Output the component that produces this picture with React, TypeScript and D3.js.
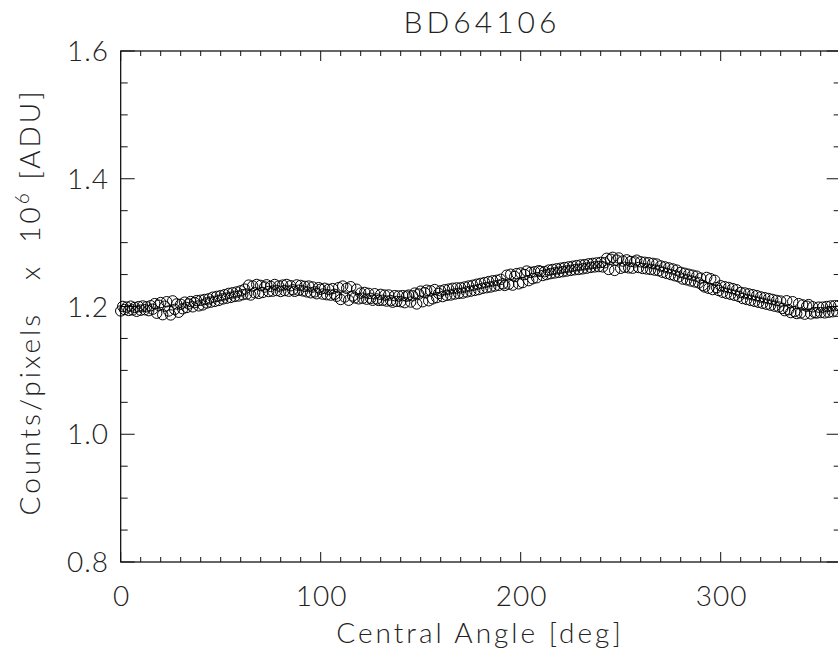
import React from 'react';
import { scaleLinear, range } from 'd3';

const title = 'BD64106';
const xLabel = 'Central Angle [deg]';

// x tick labels and y tick labels
const xMajor = [0, 100, 200, 300];
const yMajor = [0.8, 1.0, 1.2, 1.4, 1.6];

// one measurement per degree, 0..359, in units of 10^6 ADU
const counts0to89 = [
  1.1930, 1.2001, 1.1952, 1.1990, 1.1938, 1.2005, 1.1947, 1.1985, 1.1925, 1.1998,
  1.1942, 1.2008, 1.1950, 1.1995, 1.1935, 1.2012, 1.1958, 1.2045, 1.1895, 1.2020,
  1.2062, 1.1872, 1.2005, 1.2075, 1.1930, 1.1868, 1.2088, 1.1955, 1.2040, 1.1910,
  1.2035, 1.1965, 1.2068, 1.1985, 1.2040, 1.2078, 1.1995, 1.2060, 1.2092, 1.2010,
  1.2098, 1.2025, 1.2110, 1.2055, 1.2120, 1.2068, 1.2145, 1.2080, 1.2158, 1.2095,
  1.2170, 1.2118, 1.2185, 1.2130, 1.2205, 1.2142, 1.2215, 1.2158, 1.2228, 1.2165,
  1.2245, 1.2185, 1.2272, 1.2195, 1.2335, 1.2180, 1.2320, 1.2215, 1.2345, 1.2205,
  1.2330, 1.2220, 1.2305, 1.2340, 1.2235, 1.2315, 1.2240, 1.2345, 1.2250, 1.2320,
  1.2235, 1.2335, 1.2250, 1.2345, 1.2240, 1.2325, 1.2262, 1.2238, 1.2338, 1.2255,
];
const counts90to179 = [
  1.2330, 1.2245, 1.2315, 1.2230, 1.2320, 1.2215, 1.2305, 1.2228, 1.2200, 1.2295,
  1.2270, 1.2195, 1.2285, 1.2185, 1.2268, 1.2178, 1.2280, 1.2190, 1.2160, 1.2295,
  1.2110, 1.2320, 1.2150, 1.2285, 1.2098, 1.2310, 1.2165, 1.2135, 1.2270, 1.2120,
  1.2210, 1.2130, 1.2220, 1.2115, 1.2205, 1.2128, 1.2098, 1.2200, 1.2118, 1.2095,
  1.2190, 1.2098, 1.2178, 1.2085, 1.2180, 1.2092, 1.2068, 1.2170, 1.2080, 1.2165,
  1.2075, 1.2170, 1.2060, 1.2162, 1.2178, 1.2070, 1.2168, 1.2210, 1.2040, 1.2195,
  1.2240, 1.2075, 1.2215, 1.2255, 1.2090, 1.2245, 1.2120, 1.2265, 1.2140, 1.2205,
  1.2245, 1.2155, 1.2262, 1.2175, 1.2272, 1.2180, 1.2285, 1.2195, 1.2290, 1.2205,
  1.2292, 1.2210, 1.2305, 1.2228, 1.2320, 1.2240, 1.2332, 1.2252, 1.2348, 1.2265,
];
const counts180to269 = [
  1.2362, 1.2285, 1.2375, 1.2295, 1.2390, 1.2305, 1.2402, 1.2320, 1.2410, 1.2332,
  1.2425, 1.2355, 1.2330, 1.2490, 1.2350, 1.2505, 1.2335, 1.2470, 1.2515, 1.2355,
  1.2525, 1.2375, 1.2500, 1.2555, 1.2405, 1.2535, 1.2435, 1.2545, 1.2450, 1.2560,
  1.2550, 1.2485, 1.2545, 1.2500, 1.2570, 1.2515, 1.2580, 1.2525, 1.2590, 1.2535,
  1.2600, 1.2545, 1.2610, 1.2555, 1.2620, 1.2565, 1.2630, 1.2575, 1.2640, 1.2580,
  1.2650, 1.2590, 1.2655, 1.2600, 1.2668, 1.2612, 1.2675, 1.2620, 1.2682, 1.2625,
  1.2690, 1.2620, 1.2685, 1.2755, 1.2580, 1.2740, 1.2770, 1.2565, 1.2725, 1.2760,
  1.2598, 1.2712, 1.2615, 1.2730, 1.2605, 1.2705, 1.2600, 1.2698, 1.2725, 1.2610,
  1.2700, 1.2595, 1.2692, 1.2588, 1.2685, 1.2580, 1.2675, 1.2570, 1.2665, 1.2560,
];
const counts270to359 = [
  1.2635, 1.2535, 1.2620, 1.2518, 1.2605, 1.2500, 1.2588, 1.2482, 1.2570, 1.2465,
  1.2535, 1.2430, 1.2520, 1.2418, 1.2505, 1.2400, 1.2490, 1.2385, 1.2475, 1.2370,
  1.2445, 1.2330, 1.2305, 1.2455, 1.2285, 1.2435, 1.2265, 1.2410, 1.2295, 1.2250,
  1.2325, 1.2222, 1.2310, 1.2205, 1.2298, 1.2190, 1.2280, 1.2175, 1.2262, 1.2158,
  1.2220, 1.2125, 1.2212, 1.2110, 1.2198, 1.2095, 1.2185, 1.2080, 1.2170, 1.2065,
  1.2150, 1.2050, 1.2138, 1.2035, 1.2125, 1.2020, 1.2110, 1.2005, 1.2095, 1.1992,
  1.2085, 1.1970, 1.1935, 1.2090, 1.1950, 1.1905, 1.2075, 1.1920, 1.1890, 1.2045,
  1.1900, 1.2025, 1.1880, 1.2005, 1.2030, 1.1885, 1.1995, 1.1905, 1.1898, 1.1990,
  1.1905, 1.1990, 1.1900, 1.2000, 1.1910, 1.2008, 1.1918, 1.2012, 1.1925, 1.2015,
];

const counts = [...counts0to89, ...counts90to179, ...counts180to269, ...counts270to359];
const angles = counts.map((_, i) => i);

const W = 838;
const H = 657;
const font = 'Lato, "DejaVu Sans", sans-serif';
const ink = '#222';

export default function App() {
  const left = 120.7;
  const right = 840.7;
  const top = 51;
  const bottom = 562;

  const x = scaleLinear().domain([0, 360]).range([left, right]);
  const y = scaleLinear().domain([0.8, 1.6]).range([bottom, top]);

  const xMinor = range(0, 361, 10);
  const yMinor = range(0.8, 1.6001, 0.05);

  return (
    <svg
      width={W}
      height={H}
      style={{ position: 'absolute', left: 0, top: 0, background: '#fff' }}
    >
      <rect width={W} height={H} fill="#fff" />
      <text x={482} y={33} textAnchor="middle" fontFamily={font} fontWeight={300} fontSize={30} letterSpacing={4} fill={ink}>
        {title}
      </text>

      {/* frame */}
      <rect x={left} y={top} width={right - left} height={bottom - top} fill="none" stroke="#000" strokeWidth={1.2} />

      {/* x ticks, bottom and top */}
      {xMinor.map((t) => {
        const len = t % 100 === 0 ? 10 : 5;
        return (
          <g key={'x' + t} stroke="#111" strokeWidth={1}>
            <line x1={x(t)} x2={x(t)} y1={bottom} y2={bottom - len} />
            <line x1={x(t)} x2={x(t)} y1={top} y2={top + len} />
          </g>
        );
      })}
      {/* y ticks, left and right */}
      {yMinor.map((t, i) => {
        const len = i % 4 === 0 ? 14 : 7;
        return (
          <g key={'y' + i} stroke="#111" strokeWidth={1}>
            <line x1={left} x2={left + len} y1={y(t)} y2={y(t)} />
            <line x1={right} x2={right - len} y1={y(t)} y2={y(t)} />
          </g>
        );
      })}

      {xMajor.map((t) => (
        <text key={'xl' + t} x={x(t) + 1} y={606} textAnchor="middle" fontFamily={font} fontWeight={300} fontSize={28} letterSpacing={1} fill={ink}>
          {t}
        </text>
      ))}
      {yMajor.map((t) => (
        <text key={'yl' + t} x={109} y={y(t) + 10} textAnchor="end" fontFamily={font} fontWeight={300} fontSize={28} letterSpacing={1} fill={ink}>
          {t.toFixed(1)}
        </text>
      ))}

      <text x={480} y={643} textAnchor="middle" fontFamily={font} fontWeight={300} fontSize={28} letterSpacing={3} fill={ink}>
        {xLabel}
      </text>
      <text
        transform={`translate(40, 302) rotate(-90)`}
        textAnchor="middle"
        fontFamily={font}
        fontWeight={300}
        fontSize={28}
        letterSpacing={3}
        fill={ink}
        xmlSpace="preserve"
      >
        {'Counts/pixels   x  10'}
        <tspan fontSize={19} dy={-11}>6</tspan>
        <tspan dy={11}>{' [ADU]'}</tspan>
      </text>

      {/* data */}
      <g fill="none" stroke="#000" strokeWidth={1}>
        {counts.map((v, i) => (
          <circle key={i} cx={x(angles[i])} cy={y(v)} r={5.2} />
        ))}
      </g>
    </svg>
  );
}
